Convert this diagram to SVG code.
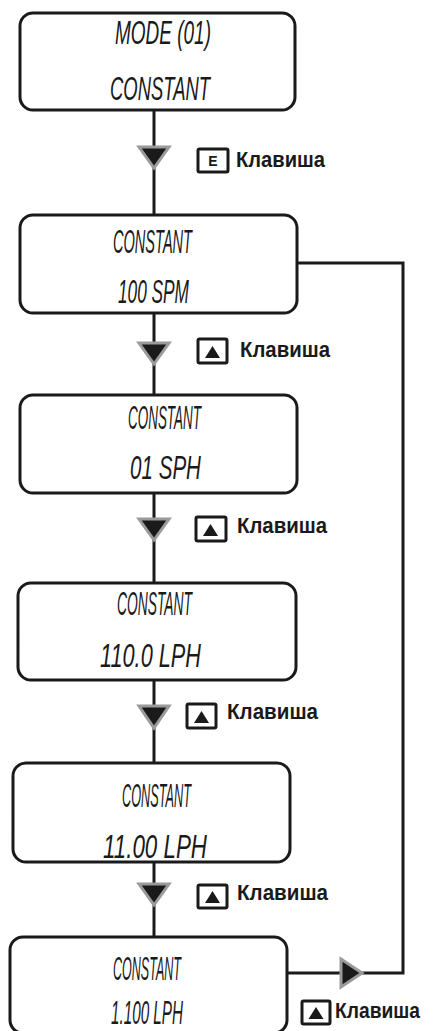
<svg xmlns="http://www.w3.org/2000/svg" width="433" height="1031" viewBox="0 0 433 1031">
<style>
.box{fill:#fff;stroke:#1a1a1a;stroke-width:3}
.lcd{font-family:"Liberation Sans",Arial,sans-serif;font-style:italic;font-size:33px;fill:#1a1a1a;text-anchor:start}
.conn{fill:none;stroke:#1a1a1a;stroke-width:3}
.tri{fill:#1a1a1a;stroke:#9a9a9a;stroke-width:3;stroke-linejoin:miter}
.key{fill:#fff;stroke:#1a1a1a;stroke-width:3}
.keytri{fill:#1a1a1a}
.lbl{font-family:"Liberation Sans",Arial,sans-serif;font-weight:bold;font-size:22px;fill:#1a1a1a}
.ke{font-family:"Liberation Sans",Arial,sans-serif;font-weight:bold;font-size:14px;fill:#1a1a1a;text-anchor:middle}
</style>
<g id="connectors">
<line class="conn" x1="154" y1="110" x2="154" y2="215"/>
<line class="conn" x1="154" y1="313" x2="154" y2="395"/>
<line class="conn" x1="154" y1="493" x2="154" y2="583"/>
<line class="conn" x1="154" y1="680" x2="154" y2="763"/>
<line class="conn" x1="154" y1="862" x2="154" y2="937"/>
<polyline class="conn" points="287,973 403,973 403,263 297,263"/>
<polygon class="tri" points="139,147 169,147 154,168"/>
<polygon class="tri" points="139,343 169,343 154,364"/>
<polygon class="tri" points="139,519 169,519 154,540"/>
<polygon class="tri" points="139,706 169,706 154,728"/>
<polygon class="tri" points="139,884 169,884 154,905"/>
<polygon class="tri" points="341,959 341,987 362,973"/>
</g>
<g id="node1">
<rect class="box" x="20" y="13" width="275" height="97" rx="13"/>
<text class="lcd" x="115" y="44" font-size="23" textLength="96" lengthAdjust="spacingAndGlyphs">MODE (01)</text>
<text class="lcd" x="110" y="100" textLength="100" lengthAdjust="spacingAndGlyphs">CONSTANT</text>
</g>
<g id="node2">
<rect class="box" x="20" y="215" width="277" height="98" rx="13"/>
<text class="lcd" x="113" y="253" textLength="79" lengthAdjust="spacingAndGlyphs">CONSTANT</text>
<text class="lcd" x="118" y="303" textLength="71" lengthAdjust="spacingAndGlyphs">100 SPM</text>
</g>
<g id="node3">
<rect class="box" x="20" y="395" width="277" height="98" rx="13"/>
<text class="lcd" x="128" y="429" textLength="73" lengthAdjust="spacingAndGlyphs">CONSTANT</text>
<text class="lcd" x="130" y="479" textLength="71" lengthAdjust="spacingAndGlyphs">01 SPH</text>
</g>
<g id="node4">
<rect class="box" x="18" y="583" width="278" height="97" rx="13"/>
<text class="lcd" x="117" y="615" textLength="75" lengthAdjust="spacingAndGlyphs">CONSTANT</text>
<text class="lcd" x="100" y="667" textLength="101" lengthAdjust="spacingAndGlyphs">110.0 LPH</text>
</g>
<g id="node5">
<rect class="box" x="13" y="763" width="277" height="99" rx="13"/>
<text class="lcd" x="122" y="807" textLength="69" lengthAdjust="spacingAndGlyphs">CONSTANT</text>
<text class="lcd" x="103" y="858" textLength="104" lengthAdjust="spacingAndGlyphs">11.00 LPH</text>
</g>
<g id="node6">
<rect class="box" x="10" y="937" width="277" height="96" rx="13"/>
<text class="lcd" x="113" y="980" textLength="68" lengthAdjust="spacingAndGlyphs">CONSTANT</text>
<text class="lcd" x="111" y="1024" font-size="31" textLength="72" lengthAdjust="spacingAndGlyphs">1.100 LPH</text>
</g>
<g id="label1">
<rect class="key" x="198" y="149" width="30" height="23" rx="1.5"/>
<text class="ke" x="213" y="166">E</text>
<text class="lbl" x="236" y="167" textLength="89" lengthAdjust="spacingAndGlyphs">Клавиша</text>
</g>
<g id="label2">
<rect class="key" x="198" y="339" width="29" height="24" rx="1.5"/>
<polygon class="keytri" points="205,358 220,358 212.5,346"/>
<text class="lbl" x="240" y="357" textLength="90" lengthAdjust="spacingAndGlyphs">Клавиша</text>
</g>
<g id="label3">
<rect class="key" x="196" y="517" width="30" height="24" rx="1.5"/>
<polygon class="keytri" points="203,536 218,536 210.5,524"/>
<text class="lbl" x="237" y="533" textLength="90" lengthAdjust="spacingAndGlyphs">Клавиша</text>
</g>
<g id="label4">
<rect class="key" x="187" y="704" width="29" height="24" rx="1.5"/>
<polygon class="keytri" points="194,723 209,723 201.5,711"/>
<text class="lbl" x="227" y="719" textLength="91" lengthAdjust="spacingAndGlyphs">Клавиша</text>
</g>
<g id="label5">
<rect class="key" x="198" y="885" width="29" height="23" rx="1.5"/>
<polygon class="keytri" points="205,903 220,903 212.5,891"/>
<text class="lbl" x="237" y="900" textLength="91" lengthAdjust="spacingAndGlyphs">Клавиша</text>
</g>
<g id="label6">
<rect class="key" x="302" y="1001" width="28" height="23" rx="1.5"/>
<polygon class="keytri" points="308.5,1019 323.5,1019 316,1007"/>
<text class="lbl" x="335" y="1018" font-size="19" textLength="85" lengthAdjust="spacingAndGlyphs">Клавиша</text>
</g>
</svg>
